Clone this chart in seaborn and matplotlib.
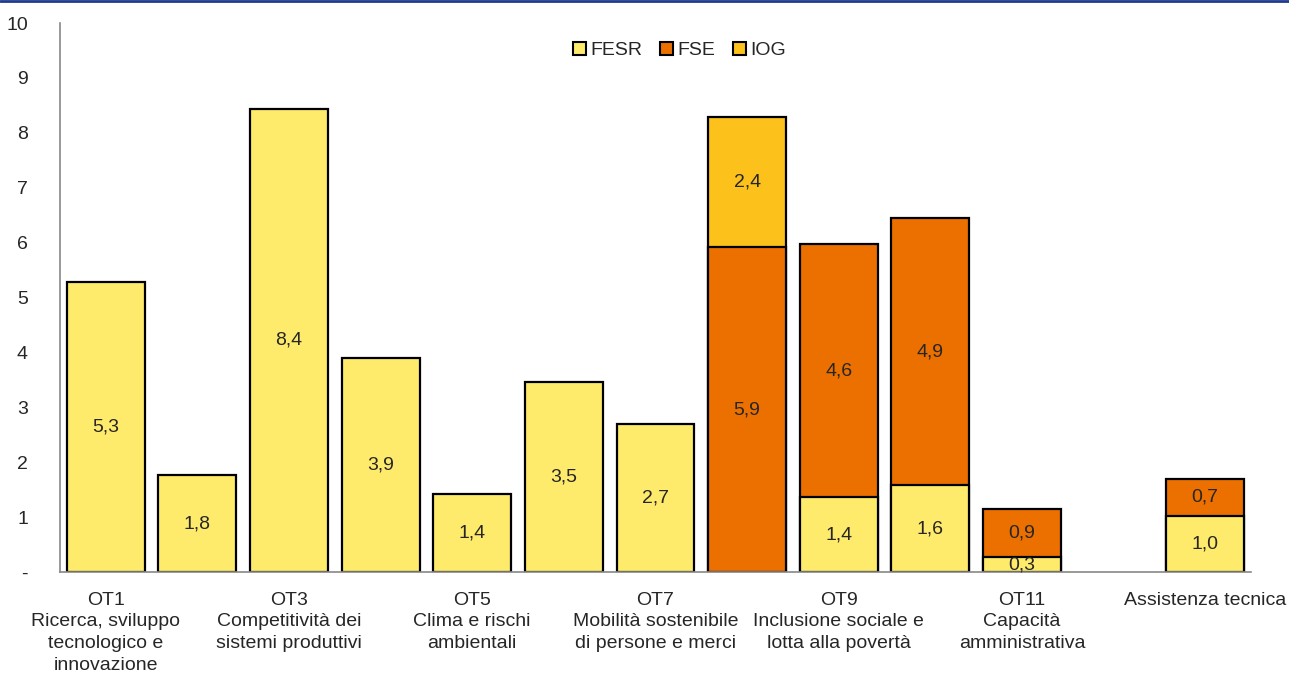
import seaborn as sns
import matplotlib.pyplot as plt
import pandas as pd
from matplotlib.lines import Line2D
from matplotlib.patches import Patch

# slots on the x axis (one empty slot before Assistenza tecnica)
slots = ["OT1", "OT2", "OT3", "OT4", "OT5", "OT6", "OT7", "OT8", "OT9", "OT10", "OT11", "vuoto", "AT"]
fesr = [5.28, 1.76, 8.44, 3.90, 1.42, 3.46, 2.70, 0.0, 1.36, 1.58, 0.27, 0.0, 1.02]
fse = [0.0, 0.0, 0.0, 0.0, 0.0, 0.0, 0.0, 5.92, 4.62, 4.87, 0.88, 0.0, 0.68]
iog = [0.0, 0.0, 0.0, 0.0, 0.0, 0.0, 0.0, 2.37, 0.0, 0.0, 0.0, 0.0, 0.0]

tick_labels = ["OT1\nRicerca, sviluppo\ntecnologico e\ninnovazione", "",
               "OT3\nCompetitività dei\nsistemi produttivi", "",
               "OT5\nClima e rischi\nambientali", "",
               "OT7\nMobilità sostenibile\ndi persone e merci", "",
               "OT9\nInclusione sociale e\nlotta alla povertà", "",
               "OT11\nCapacità\namministrativa", "",
               "Assistenza tecnica"]

c_fesr, c_fse, c_iog = "#FFEB6B", "#EC7000", "#FDC11C"

sns.set_style("white")
plt.rcParams["font.family"] = ["Liberation Sans", "DejaVu Sans"]
fs = 14

df = pd.DataFrame({"slot": slots, "FESR": fesr, "FSE": fse, "IOG": iog})
df["s2"] = df["FESR"] + df["FSE"]
df["s3"] = df["s2"] + df["IOG"]

fig = plt.figure(figsize=(12.89, 6.77), dpi=100)
ax = fig.add_axes([0.0465, 0.155, 0.924, 0.811])

bar_kw = dict(width=0.85, edgecolor="black", linewidth=1.6, order=slots, ax=ax)
sns.barplot(data=df[df["IOG"] > 0], x="slot", y="s3", color=c_iog, saturation=1, **bar_kw)
sns.barplot(data=df[df["FSE"] > 0], x="slot", y="s2", color=c_fse, saturation=1, **bar_kw)
sns.barplot(data=df[df["FESR"] > 0], x="slot", y="FESR", color=c_fesr, saturation=1, **bar_kw)

# value labels in the middle of each segment
for i in range(len(slots)):
    base = 0
    for v in (fesr[i], fse[i], iog[i]):
        if v > 0:
            ax.text(i, base + v / 2, f"{v:.1f}".replace(".", ","), ha="center", va="center", fontsize=fs)
        base += v

ax.set_ylim(0, 10)
ax.set_xlim(-0.5, len(slots) - 0.5)
ax.set_yticks(range(0, 11))
ax.set_yticklabels(["-"] + [str(i) for i in range(1, 11)], fontsize=fs)
ax.set_xticks([i - 0.5 for i in range(len(slots) + 1)])
ax.set_xticklabels([])
ax.set_xticks(range(len(slots)), minor=True)
ax.set_xticklabels(tick_labels, minor=True, linespacing=1.38, va="top", fontsize=fs)
ax.tick_params(axis="x", which="minor", length=0, pad=14)
ax.tick_params(axis="x", which="major", length=5, color="#888888", direction="out")
ax.tick_params(axis="y", length=5, color="#888888", direction="out", pad=18)
ax.set_xlabel("")
ax.set_ylabel("")
for s in ("top", "right"):
    ax.spines[s].set_visible(False)
for s in ("left", "bottom"):
    ax.spines[s].set_color("#888888")
    ax.spines[s].set_linewidth(1.2)

handles = [Patch(facecolor=c, edgecolor="black", linewidth=1.5) for c in (c_fesr, c_fse, c_iog)]
ax.legend(handles, ["FESR", "FSE", "IOG"], loc="upper center", bbox_to_anchor=(0.52, 0.998), ncol=3,
          frameon=False, handlelength=0.7, handleheight=0.7, handletextpad=0.2, columnspacing=0.9, fontsize=fs)

fig.add_artist(Line2D([0, 1], [0.998, 0.998], color="#1F3A8C", linewidth=2, transform=fig.transFigure))

fig.savefig("out.png", dpi=100)
